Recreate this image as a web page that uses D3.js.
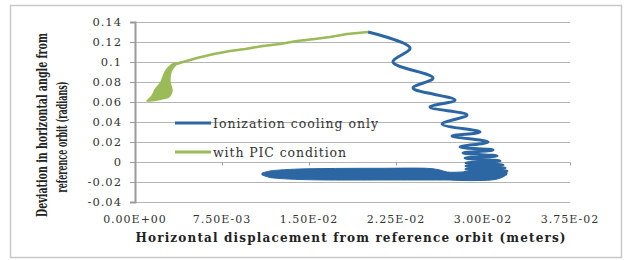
<!DOCTYPE html>
<html>
<head>
<meta charset="utf-8">
<script src="https://cdn.jsdelivr.net/npm/d3@7"></script>
<style>
  body { margin: 0; background: #fff; }
  svg { display: block; }
</style>
</head>
<body>
<div id="chart"></div>
<script>
// axis ticks
const xTicks = [0, 0.0075, 0.015, 0.0225, 0.03, 0.0375];
const xTickLabels = ["0.00E+00", "7.50E-03", "1.50E-02", "2.25E-02", "3.00E-02", "3.75E-02"];
const yTicks = [0.14, 0.12, 0.1, 0.08, 0.06, 0.04, 0.02, 0, -0.02, -0.04];
const yTickLabels = ["0.14", "0.12", "0.1", "0.08", "0.06", "0.04", "0.02", "0", "-0.02", "-0.04"];

const seriesNames = ["Ionization cooling only", "with PIC condition"];

// with PIC condition -- the densely filled start: [angle, x left, x right]
const picBlob = [
  [0.061, 0.00103, 0.00129], [0.063, 0.00121, 0.00233], [0.065, 0.00138, 0.00293],
  [0.068, 0.00155, 0.00310], [0.072, 0.00172, 0.00319], [0.076, 0.00198, 0.00310],
  [0.080, 0.00224, 0.00302], [0.085, 0.00241, 0.00302], [0.090, 0.00259, 0.00310],
  [0.094, 0.00284, 0.00328], [0.097, 0.00310, 0.00353], [0.099, 0.00345, 0.00397]
];
// ... and its run up to the turning point: [x, angle]
const picRun = [
  [0.00360, 0.0985], [0.00414, 0.100], [0.00534, 0.104], [0.0068, 0.108],
  [0.00819, 0.111], [0.0095, 0.113], [0.01103, 0.116], [0.0125, 0.118],
  [0.01397, 0.121], [0.0155, 0.123], [0.01681, 0.125], [0.01828, 0.128],
  [0.02009, 0.130]
];

// ionization cooling only: spiral down from the turning point, [x, angle]
const coolSpiral = [
  [0.02009, 0.130], [0.02371, 0.114], [0.02224, 0.100], [0.02569, 0.084],
  [0.02397, 0.074], [0.02759, 0.062], [0.02543, 0.055], [0.02862, 0.047],
  [0.02647, 0.038], [0.02974, 0.030], [0.02733, 0.026], [0.03043, 0.020],
  [0.02802, 0.015], [0.03086, 0.012], [0.02828, 0.009], [0.03121, 0.006],
  [0.02845, 0.004], [0.03147, 0.001], [0.02853, -0.001], [0.03172, -0.003],
  [0.02853, -0.004], [0.03190, -0.006], [0.02853, -0.007], [0.03207, -0.009],
  [0.02845, -0.010], [0.03207, -0.012]
];
// ... then the densely filled band: [x, angle top, angle bottom]
const coolBand = [
  [0.01095, -0.011, -0.013], [0.01164, -0.009, -0.0155], [0.0125, -0.008, -0.0165],
  [0.01422, -0.007, -0.0175], [0.01681, -0.0065, -0.018], [0.02112, -0.0063, -0.018],
  [0.02543, -0.0065, -0.018], [0.02629, -0.008, -0.018], [0.0269, -0.010, -0.018],
  [0.02819, -0.010, -0.0185], [0.02974, -0.009, -0.0185], [0.03103, -0.008, -0.0175],
  [0.03172, -0.008, -0.015], [0.03207, -0.010, -0.012]
];

const width = 624, height = 260;
const plot = {left: 135, right: 570, top: 22, bottom: 202};
const blue = "#2c67a3", green = "#9bbb59";
const serif = "'DejaVu Serif', 'Liberation Serif', serif";

const x = d3.scaleLinear([0, 0.0375], [plot.left, plot.right]);
const y = d3.scaleLinear([-0.04, 0.14], [plot.bottom, plot.top]);

const svg = d3.select("#chart").append("svg")
    .attr("width", width)
    .attr("height", height)
    .attr("viewBox", [0, 0, width, height]);

// outer frame
svg.append("rect")
    .attr("x", 10.5).attr("y", 5.5)
    .attr("width", 611).attr("height", 252)
    .attr("fill", "#fff")
    .attr("stroke", "#c8c8c8")
    .attr("stroke-width", 1.5);

// gridlines
svg.append("g")
    .selectAll("line")
    .data(yTicks)
    .join("line")
        .attr("x1", plot.left).attr("x2", plot.right)
        .attr("y1", d => Math.round(y(d)) + 0.5).attr("y2", d => Math.round(y(d)) + 0.5)
        .attr("stroke", "#b4b4b4")
        .attr("stroke-width", 1.2);

// y axis
svg.append("g")
    .attr("transform", `translate(${plot.left},0)`)
    .call(d3.axisLeft(y).tickValues(yTicks).tickSize(5).tickFormat((d, i) => yTickLabels[i]).tickPadding(8))
    .call(g => g.select(".domain").attr("stroke", "#9a9a9a").attr("stroke-width", 2))
    .call(g => g.selectAll(".tick line").attr("stroke", "#9a9a9a"))
    .call(g => g.selectAll(".tick text")
        .attr("font-family", serif).attr("font-size", 11.5)
        .attr("letter-spacing", 1).attr("fill", "#333"));

// x axis crosses at y = 0 (ticks only), labels sit below the plot
svg.append("g")
    .attr("transform", `translate(0,${Math.round(y(0)) + 0.5})`)
    .call(d3.axisBottom(x).tickValues(xTicks).tickSize(3).tickFormat(""))
    .call(g => g.select(".domain").remove())
    .call(g => g.selectAll(".tick line").attr("stroke", "#9a9a9a"));

svg.append("g")
    .selectAll("text")
    .data(xTicks)
    .join("text")
        .attr("x", d => x(d))
        .attr("y", 223)
        .attr("text-anchor", "middle")
        .attr("font-family", serif).attr("font-size", 11)
        .attr("letter-spacing", 1)
        .attr("fill", "#333")
        .text((d, i) => xTickLabels[i]);

// axis titles
svg.append("text")
    .attr("x", (plot.left + plot.right) / 2 - 2)
    .attr("y", 242)
    .attr("text-anchor", "middle")
    .attr("font-family", serif).attr("font-size", 12).attr("font-weight", "bold")
    .attr("textLength", 430).attr("lengthAdjust", "spacing")
    .attr("fill", "#222")
    .text("Horizontal displacement from reference orbit (meters)");

// y title: condensed bold serif, squeezed to the reference length
const yTitle = [
  {text: "Deviation in horizontal angle from", cx: 47, cy: 125, len: 184},
  {text: "reference orbit (radians)", cx: 67, cy: 137, len: 111}
];
svg.append("g")
    .selectAll("text")
    .data(yTitle)
    .join("text")
        .attr("text-anchor", "middle")
        .attr("font-family", serif).attr("font-size", 14.5).attr("font-weight", "bold")
        .attr("fill", "#222")
        .text(d => d.text)
        .attr("transform", function(d) {
            const k = d.len / this.getComputedTextLength();
            return `translate(${d.cx},${d.cy}) rotate(-90) scale(${k},1)`;
        });

// series
const line = d3.line().x(d => x(d[0])).y(d => y(d[1]));
const lineSmooth = d3.line().x(d => x(d[0])).y(d => y(d[1])).curve(d3.curveCatmullRom.alpha(0.5));
const bandArea = d3.area()
    .x(d => x(d[0])).y0(d => y(d[2])).y1(d => y(d[1]))
    .curve(d3.curveCatmullRom.alpha(0.5));
const blobArea = d3.area()
    .y(d => y(d[0])).x0(d => x(d[1])).x1(d => x(d[2]))
    .curve(d3.curveCatmullRom.alpha(0.5));

svg.append("path")
    .datum(coolBand)
    .attr("fill", blue)
    .attr("stroke", blue)
    .attr("stroke-width", 1)
    .attr("d", bandArea);

svg.append("path")
    .datum(coolSpiral)
    .attr("fill", "none")
    .attr("stroke", blue)
    .attr("stroke-width", 3)
    .attr("stroke-linejoin", "round")
    .attr("d", lineSmooth);

svg.append("path")
    .datum(picBlob)
    .attr("fill", green)
    .attr("stroke", green)
    .attr("stroke-width", 1.5)
    .attr("stroke-linejoin", "round")
    .attr("d", blobArea);

svg.append("path")
    .datum(picRun)
    .attr("fill", "none")
    .attr("stroke", green)
    .attr("stroke-width", 2.6)
    .attr("stroke-linejoin", "round")
    .attr("d", line);

// legend (no background, gridlines show through)
const legend = svg.append("g")
    .selectAll("g")
    .data(seriesNames)
    .join("g")
        .attr("transform", (d, i) => `translate(175,${123 + i * 29})`);

legend.append("line")
    .attr("x1", 0).attr("x2", 36)
    .attr("stroke", (d, i) => i === 0 ? blue : green)
    .attr("stroke-width", 3);

legend.append("text")
    .attr("x", 38)
    .attr("y", 5)
    .attr("font-family", serif).attr("font-size", 12.5)
    .attr("textLength", (d, i) => i === 0 ? 165 : 133)
    .attr("lengthAdjust", "spacing")
    .attr("fill", "#333")
    .text(d => d);
</script>
</body>
</html>
